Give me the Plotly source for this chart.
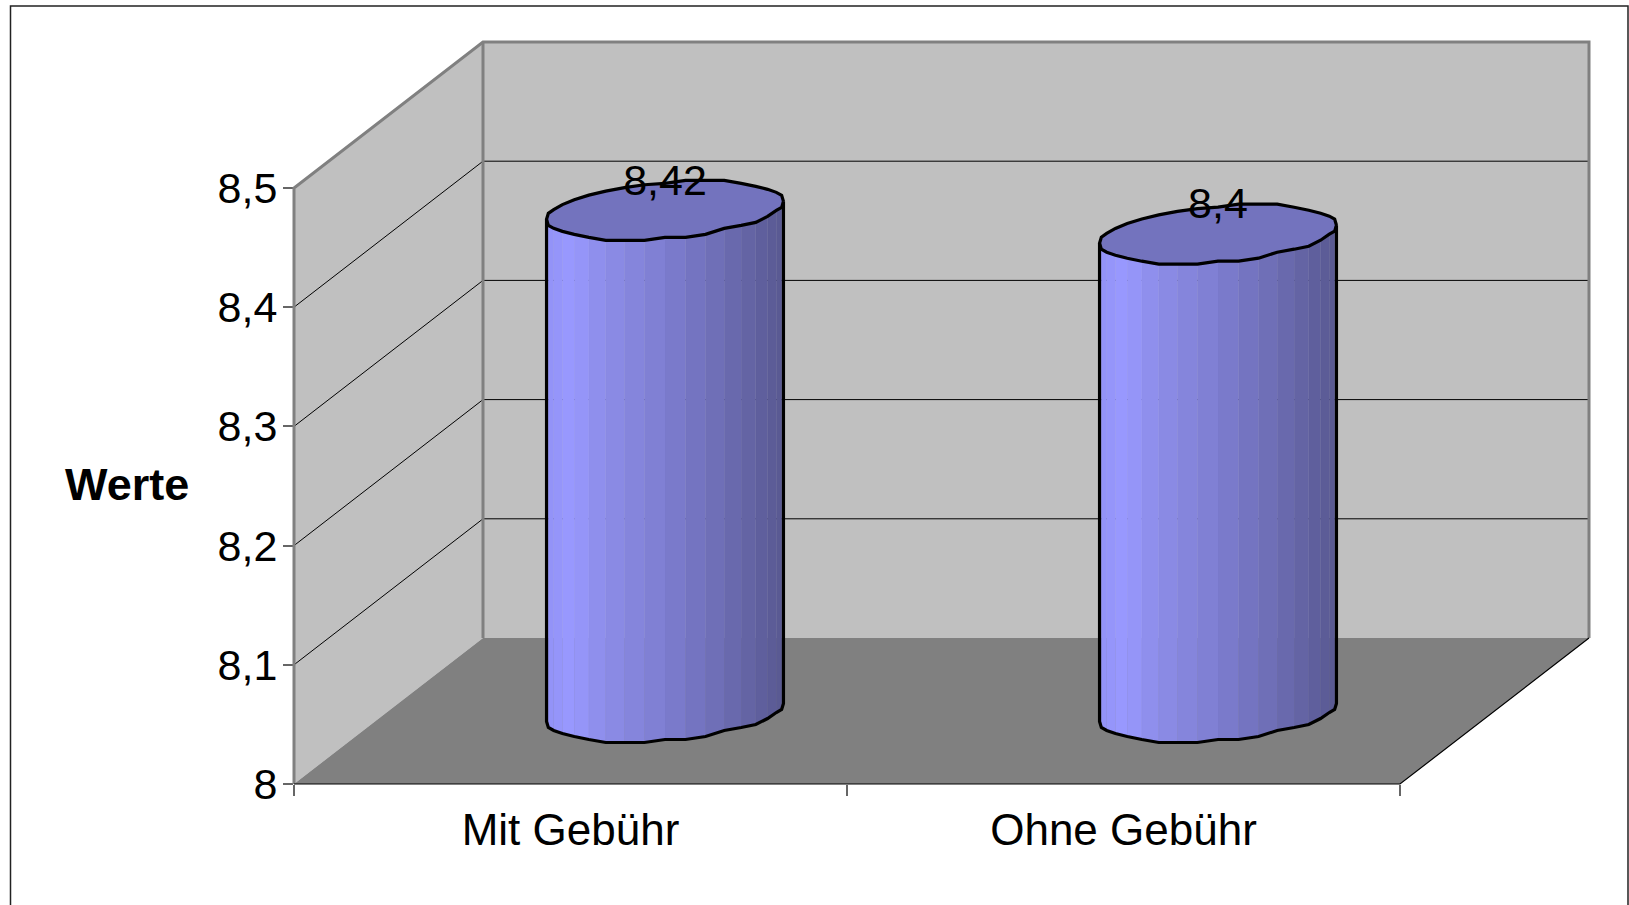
import math
import plotly.graph_objects as go

categories = ["Mit Gebühr", "Ohne Gebühr"]
values = [8.42, 8.4]
value_labels = ["8,42", "8,4"]
tick_values = [8, 8.1, 8.2, 8.3, 8.4, 8.5]
axis_title = "Werte"

W, H = 1629, 905
FONT = "Liberation Sans"
FS = 43
# front plane on the canvas (px)
PX_L, PX_R, PY_B, PY_T = 294.0, 1400.0, 784.0, 188.0
PX_CAT = (PX_R - PX_L) / len(categories)
PX_VAL = (PY_B - PY_T) / (tick_values[-1] - tick_values[0])
# oblique projection of the depth axis (px)
DEPTH_X, DEPTH_Y = 189.0, 146.0
# cylinder radii (px) in the projected plane
RA, RB, RC = 112.3, 37.7, 29.15
BASE_DROP = 1.5
WALL, FLOOR, EDGE = "#C0C0C0", "#808080", "#808080"
TOP_FILL = "#7373BE"
SHADE = [(0.0, (146, 146, 246)), (0.1, (153, 153, 255)), (0.25, (140, 140, 232)),
         (0.5, (125, 125, 208)), (0.75, (108, 108, 178)), (1.0, (88, 88, 144))]

V0 = tick_values[0]
VT = tick_values[-1]
X0 = -0.5


def proj(x, v, d=0.0):
    """category position, value and depth fraction -> overlay axis coords"""
    return x + d * DEPTH_X / PX_CAT, v + d * DEPTH_Y / PX_VAL


fig = go.Figure()


def poly(points, fill=None, color=None, width=0):
    xs = [p[0] for p in points]
    ys = [p[1] for p in points]
    kw = dict(x=xs, y=ys, xaxis="x2", yaxis="y2", mode="lines", hoverinfo="skip", showlegend=False)
    if fill:
        kw["fill"] = "toself"
        kw["fillcolor"] = fill
        kw["line"] = dict(color=color or fill, width=width)
    else:
        kw["line"] = dict(color=color, width=width, simplify=False)
    fig.add_trace(go.Scatter(**kw))


XL, XR = X0, X0 + len(categories)
# left wall, back wall, floor
poly([proj(XL, V0), proj(XL, VT), proj(XL, VT, 1), proj(XL, V0, 1)], fill=WALL)
poly([proj(XL, V0, 1), proj(XL, VT, 1), proj(XR, VT, 1), proj(XR, V0, 1)], fill=WALL)
poly([proj(XL, V0), proj(XL, V0, 1), proj(XR, V0, 1), proj(XR, V0)], fill=FLOOR)
# gridlines
for v in tick_values[1:-1]:
    poly([proj(XL, v), proj(XL, v, 1), proj(XR, v, 1)], color="#000000", width=1)
# wall edges
poly([proj(XL, V0), proj(XL, VT), proj(XL, VT, 1), proj(XR, VT, 1), proj(XR, V0, 1)], color=EDGE, width=3)
poly([proj(XL, V0, 1), proj(XL, VT, 1)], color=EDGE, width=3)
# floor edges
poly([proj(XL, V0), proj(XR, V0), proj(XR, V0, 1)], color="#000000", width=1.2)


def shade(f):
    for (a, ca), (b, cb) in zip(SHADE, SHADE[1:]):
        if f <= b:
            k = (f - a) / (b - a)
            c = [round(p + (q - p) * k) for p, q in zip(ca, cb)]
            return "rgb({},{},{})".format(*c)
    return "rgb({},{},{})".format(*SHADE[-1][1])


def ring(cat, v, angles):
    pts = []
    for t in angles:
        dx = RA * math.cos(t) + RB * math.sin(t)
        dy = RC * math.sin(t)
        if dy < 0 or dx > 0:
            dy = round(dy / 3.0) * 3.0
        cx, cy = proj(cat, v, 0.5)
        pts.append((cx + dx / PX_CAT, cy + dy / PX_VAL))
    return pts


T0 = math.atan2(RB, RA)
N = 36
for i, v in enumerate(values):
    base = V0 - BASE_DROP / PX_VAL
    front = [T0 - k * 2 * math.pi / N for k in range(N // 2 + 1)]
    lo = ring(i, base, front)
    hi = ring(i, v, front)
    xmax = lo[0][0]
    xmin = lo[-1][0]
    for k in range(len(front) - 1):
        f = ((lo[k][0] + lo[k + 1][0]) / 2 - xmin) / (xmax - xmin)
        poly([lo[k], lo[k + 1], hi[k + 1], hi[k]], fill=shade(f), width=0.5)
    allang = [T0 + k * 2 * math.pi / N for k in range(N + 1)]
    top = ring(i, v, allang)
    poly(top, fill=TOP_FILL)
    poly(top, color="#000000", width=3.2)
    poly([hi[0]] + lo + [hi[-1]], color="#000000", width=3.2)

# data labels
lab = [proj(i, v, 0.5) for i, v in enumerate(values)]
fig.add_trace(go.Scatter(
    x=[p[0] for p in lab], y=[p[1] + 26.5 / PX_VAL for p in lab], text=value_labels,
    mode="text", textposition="middle center", xaxis="x2", yaxis="y2",
    textfont=dict(family=FONT, size=FS, color="#000000"), hoverinfo="skip", showlegend=False))

# primary axes: invisible markers so the real axes draw ticks and tick labels
fig.add_trace(go.Scatter(x=categories, y=values, mode="markers", marker=dict(opacity=0),
                         hoverinfo="skip", showlegend=False))

fig.update_layout(
    width=W, height=H, margin=dict(l=0, r=0, t=0, b=0, pad=0), autosize=False,
    paper_bgcolor="#FFFFFF", plot_bgcolor="rgba(0,0,0,0)", separators=",.",
    font=dict(family=FONT, size=FS, color="#000000"), showlegend=False,
    xaxis=dict(type="category", categoryorder="array", categoryarray=categories,
               domain=[PX_L / W, PX_R / W], range=[XL, XR], tickson="boundaries",
               ticks="outside", ticklen=11, tickwidth=1.5, tickcolor="#666666",
               showgrid=False, zeroline=False, showline=False, anchor="y",
               tickangle=0, ticklabelstandoff=16, automargin=False,
               tickfont=dict(family=FONT, size=44, color="#000000")),
    yaxis=dict(domain=[(H - PY_B) / H, (H - PY_T) / H], range=[V0, VT], tickvals=tick_values,
               ticks="outside", ticklen=10, tickwidth=1.5, tickcolor="#666666",
               showgrid=False, zeroline=False, showline=False, anchor="x",
               ticklabelstandoff=-3, automargin=False),
    xaxis2=dict(domain=[0, 1], range=[X0 - PX_L / PX_CAT, X0 + (W - PX_L) / PX_CAT],
                visible=False, anchor="y2", fixedrange=True, automargin=False),
    yaxis2=dict(domain=[0, 1], range=[V0 - (H - PY_B) / PX_VAL, V0 + PY_B / PX_VAL],
                visible=False, anchor="x2", fixedrange=True, automargin=False),
    annotations=[dict(text="<b>" + axis_title + "</b>", xref="paper", yref="paper",
                      x=127.5 / W, y=1 - 484 / H, showarrow=False, xanchor="center", yanchor="middle",
                      font=dict(family=FONT, size=45, color="#000000"))],
    shapes=[dict(type="rect", xref="paper", yref="paper", x0=10.5 / W, x1=1628 / W,
                 y0=-0.05, y1=1 - 6 / H, line=dict(color="#222222", width=1.5), layer="below")],
)
fig.write_html("out.html", post_script="document.body.style.margin='0';",
               config=dict(displayModeBar=False))
